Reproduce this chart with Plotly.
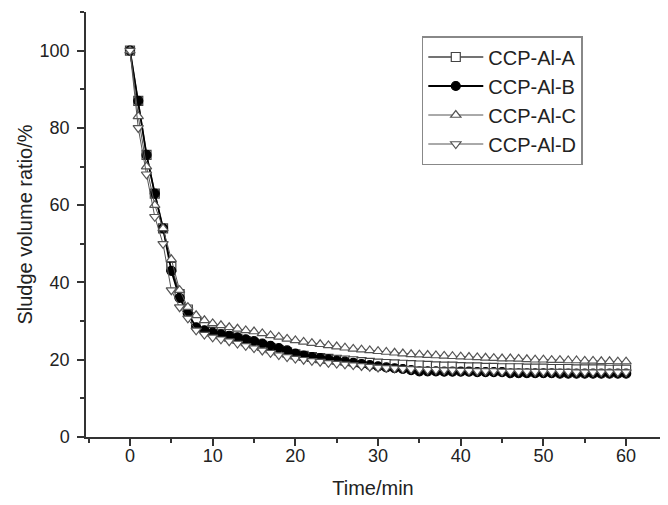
import plotly.graph_objects as go

time_min = list(range(61))

ccp_al_a = [100, 87, 73, 63, 54, 44, 37, 33, 30, 28.5, 27.2, 26.6, 26.0, 25.4, 24.8,
            24.2, 23.6, 23.0, 22.4, 21.9, 21.4, 21.0, 20.7, 20.4, 20.2, 20.0, 19.8, 19.6,
            19.4, 19.2, 19.0, 18.9, 18.8, 18.7, 18.6, 18.5, 18.4, 18.3, 18.2, 18.2, 18.1,
            18.0, 18.0, 17.9, 17.9, 17.8, 17.8, 17.8, 17.7, 17.7, 17.7, 17.6, 17.6, 17.6,
            17.5, 17.5, 17.5, 17.5, 17.4, 17.4, 17.4]
ccp_al_b = [100, 87, 73, 63, 54, 43, 36, 32, 28.4, 27.6, 27.0, 26.6, 26.2, 25.8, 25.3,
            24.8, 24.2, 23.6, 23.0, 22.4, 21.6, 21.1, 20.7, 20.4, 20.1, 19.8, 19.5, 19.2,
            18.9, 18.6, 18.3, 18.0, 17.8, 17.6, 17.3, 17.0, 17.0, 17.0, 16.9, 16.9, 16.9,
            16.9, 16.8, 16.8, 16.8, 16.8, 16.5, 16.5, 16.5, 16.5, 16.5, 16.5, 16.4, 16.4,
            16.4, 16.4, 16.4, 16.4, 16.4, 16.4, 16.4]
ccp_al_c = [100, 83, 70, 60, 54, 46, 38, 33.6, 31.5, 30.2, 29.4, 28.9, 28.4, 28.0, 27.6,
            27.3, 26.8, 26.3, 25.9, 25.4, 25.0, 24.6, 24.3, 24.0, 23.7, 23.4, 23.1, 22.8,
            22.6, 22.4, 22.2, 22.0, 21.8, 21.6, 21.4, 21.3, 21.2, 21.1, 21.0, 20.9, 20.8,
            20.7, 20.6, 20.5, 20.4, 20.3, 20.3, 20.2, 20.1, 20.0, 20.0, 19.9, 19.9, 19.8,
            19.8, 19.7, 19.7, 19.6, 19.6, 19.5, 19.5]
ccp_al_d = [100, 80, 68, 57, 50, 38, 33.6, 30.7, 27.6, 26.5, 25.8, 25.3, 24.8, 24.2, 23.6,
            23.0, 22.4, 21.8, 21.2, 20.7, 20.3, 20.0, 19.7, 19.5, 19.2, 19.0, 18.8, 18.6,
            18.4, 18.2, 18.0, 17.9, 17.8, 17.7, 17.6, 17.5, 17.4, 17.4, 17.3, 17.3, 17.2,
            17.2, 17.1, 17.1, 17.1, 17.0, 17.0, 17.0, 17.0, 16.9, 16.9, 16.9, 16.9, 16.9,
            16.8, 16.8, 16.8, 16.8, 16.8, 16.8, 16.8]

series = [
    ("CCP-Al-A", ccp_al_a, "square", "white", "#444444", 1.5),
    ("CCP-Al-B", ccp_al_b, "circle", "black", "black", 1.8),
    ("CCP-Al-C", ccp_al_c, "triangle-up", "white", "#555555", 1.0),
    ("CCP-Al-D", ccp_al_d, "triangle-down", "white", "#555555", 1.0),
]

fig = go.Figure()
for name, vals, sym, fill, edge, lw in series:
    fig.add_scatter(x=time_min, y=vals, name=name, mode="lines+markers",
                    line={"color": edge if fill == "white" else "black", "width": lw},
                    marker={"symbol": sym, "size": 9, "color": fill,
                            "line": {"color": edge, "width": 1.2}})

font = "Arial, Liberation Sans, sans-serif"
axis_common = dict(showline=True, linecolor="#333333", linewidth=1.5, ticks="outside",
                   ticklen=7, tickwidth=1.5, tickcolor="#333333", showgrid=False,
                   zeroline=False, automargin=False,
                   tickfont={"size": 18, "color": "#222222"},
                   title_font={"size": 20, "color": "#222222"})

fig.update_xaxes(range=[-5.32, 64.1], tick0=0, dtick=10, title_text="Time/min",
                 title_standoff=16, ticklabelstandoff=-5,
                 minor={"ticks": "outside", "dtick": 5, "tick0": 0, "ticklen": 4,
                        "tickwidth": 1.5, "tickcolor": "#333333"},
                 **axis_common)
fig.update_yaxes(range=[0, 110], tick0=0, dtick=20, title_text="Sludge volume ratio/%",
                 title_standoff=2, ticklabelstandoff=4,
                 minor={"ticks": "outside", "dtick": 10, "tick0": 0, "ticklen": 4,
                        "tickwidth": 1.5, "tickcolor": "#333333"},
                 **axis_common)

fig.update_layout(
    width=668, height=505,
    margin={"l": 86, "r": 8, "t": 12, "b": 68},
    paper_bgcolor="white", plot_bgcolor="white",
    font={"family": font, "color": "#222222"},
    showlegend=True,
    legend={"x": 0.585, "y": 0.9435, "xanchor": "left", "yanchor": "top",
            "bgcolor": "white", "bordercolor": "#888888", "borderwidth": 1.5,
            "font": {"size": 20, "color": "#222222"}, "itemwidth": 55,
            "tracegroupgap": 0},
)

# the page has a default body margin; drop it so the figure sits at 0,0
fig.write_html("out.html", config={"displayModeBar": False},
               post_script="document.body.style.margin='0';")
